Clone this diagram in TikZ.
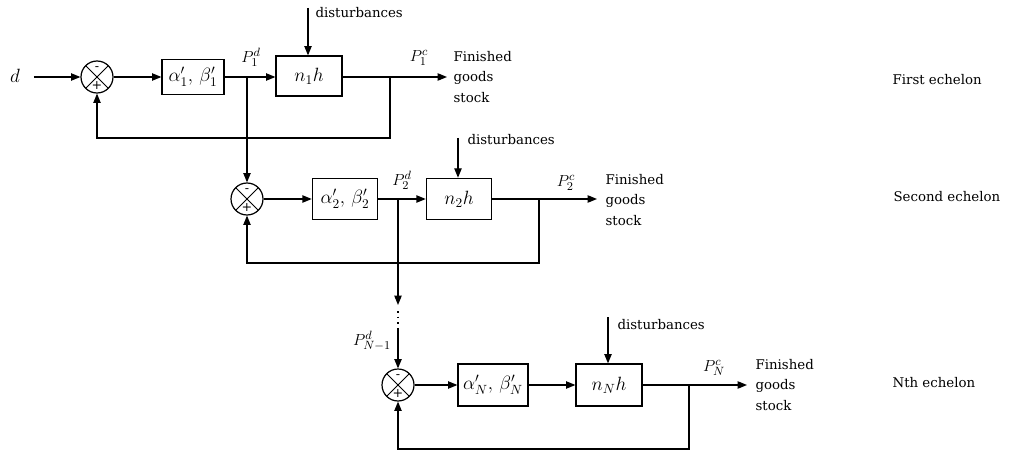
\documentclass[tikz,border=0pt]{standalone}
\usepackage{fontspec}
\setmainfont{DejaVu Serif}
\usetikzlibrary{arrows.meta,calc}
\begin{document}
\begin{tikzpicture}[x=0.75pt,y=-0.75pt, line width=0.9pt,
  font=\fontsize{10}{12}\selectfont,
  arr/.style={-{Triangle[length=7pt,width=5.5pt]}},
  box/.style={draw, minimum height=30pt, inner sep=1.5pt, font=\fontsize{14.5}{16}\selectfont},
  sumj/.style={draw, circle, minimum size=24pt, inner sep=0pt,
    path picture={
      \draw[line width=0.7pt] (path picture bounding box.north west) -- (path picture bounding box.south east)
            (path picture bounding box.north east) -- (path picture bounding box.south west);
      \node[inner sep=0pt, font=\fontsize{9.5}{9.5}\selectfont] at ([yshift=6.5pt]path picture bounding box.center) {-};
      \node[inner sep=0pt, font=\fontsize{9.5}{9.5}\selectfont] at ([yshift=-6.5pt]path picture bounding box.center) {+};
    }},
  lbl/.style={inner sep=0pt},
  mlbl/.style={inner sep=0pt, font=\fontsize{13}{14}\selectfont},
  txt/.style={align=left, anchor=west, inner sep=0pt, font=\fontsize{10}{15.5}\selectfont},
]
\useasboundingbox (0,0) rectangle (1013,456);

% ---------- First echelon ----------
\node[mlbl, font=\fontsize{14}{14}\selectfont] (d) at (15,76) {$d$};
\node[sumj] (s1) at (97,77) {};
\node[box, minimum width=46.5pt, minimum height=26pt] (a1) at (193,77) {$\alpha_1',\,\beta_1'$};
\coordinate (b1) at (247,77);
\node[box, minimum width=49.5pt] (n1) at (309,76) {$n_1h$};
\coordinate (t1) at (390,77);
\coordinate (o1) at (447,77);
\coordinate (fb1) at (390,138);
\coordinate (dz1) at (308,8);
\node[lbl, anchor=west] (dl1) at (315,13) {disturbances};
\node[mlbl] (pd1) at (251,57) {$P_1^d$};
\node[mlbl] (pc1) at (419,58) {$P_1^c$};
\node[txt] (f1) at (453,77) {Finished\\goods\\stock};
\node[txt] (e1) at (892,80) {First echelon};

\draw[arr] ([xshift=10pt]d.east |- s1) -- (s1);
\draw[arr] (s1) -- (a1);
\draw[arr] (a1) -- (a1 -| n1.west);
\draw[arr] (n1.east |- o1) -- (o1);
\draw[arr] (t1) -- (fb1) -| (s1);
\draw[arr] (dz1) -- (dz1 |- n1.north);

% ---------- Second echelon ----------
\node[sumj] (s2) at (247,199) {};
\node[box, minimum width=49pt, minimum height=31pt] (a2) at (345,199) {$\alpha_2',\,\beta_2'$};
\coordinate (b2) at (398,199);
\node[box, minimum width=49pt, minimum height=31pt] (n2) at (459,199) {$n_2h$};
\coordinate (t2) at (539,199);
\coordinate (o2) at (597,199);
\coordinate (fb2) at (539,263);
\coordinate (dz2) at (458,138);
\node[lbl, anchor=west] (dl2) at (467,140) {disturbances};
\node[mlbl] (pd2) at (402,180) {$P_2^d$};
\node[mlbl] (pc2) at (566,183) {$P_2^c$};
\node[txt] (f2) at (605,200) {Finished\\goods\\stock};
\node[txt] (e2) at (893,197) {Second echelon};

\draw[arr] (b1) -- (s2);
\draw[arr] (s2) -- (a2);
\draw[arr] (a2) -- (n2);
\draw[arr] (n2) -- (o2);
\draw[arr] (t2) -- (fb2) -| (s2);
\draw[arr] (dz2) -- (dz2 |- n2.north);

% ---------- Nth echelon ----------
\node[sumj] (sN) at (398,385) {};
\node[box, minimum width=52.5pt, minimum height=31.5pt] (aN) at (493,385) {$\alpha_N',\,\beta_N'$};
\node[box, minimum width=49.5pt, minimum height=31.5pt] (nN) at (609,385) {$n_Nh$};
\coordinate (tN) at (689,385);
\coordinate (oN) at (747,385);
\coordinate (fbN) at (689,449);
\coordinate (dzN) at (608,317);
\node[lbl, anchor=west] (dlN) at (617,325) {disturbances};
\node[mlbl] (pdN) at (372,341) {$P_{N-1}^d$};
\node[mlbl] (pcN) at (714,368) {$P_N^c$};
\node[txt] (fN) at (755,385) {Finished\\goods\\stock};
\node[txt] (eN) at (892,383) {Nth echelon};

\coordinate (v1) at (398,305);
\coordinate (dt1) at (398,311);
\coordinate (dt2) at (398,329);
\draw[arr] (b2) -- (v1);
\draw[line width=1.2pt, dash pattern=on 1.2pt off 3pt] (dt1) -- (dt2);
\draw[arr] (dt2) -- (sN);
\draw[arr] (sN) -- (aN);
\draw[arr] (aN) -- (nN);
\draw[arr] (nN) -- (oN);
\draw[arr] (tN) -- (fbN) -| (sN);
\draw[arr] (dzN) -- (dzN |- nN.north);
\end{tikzpicture}
\end{document}
